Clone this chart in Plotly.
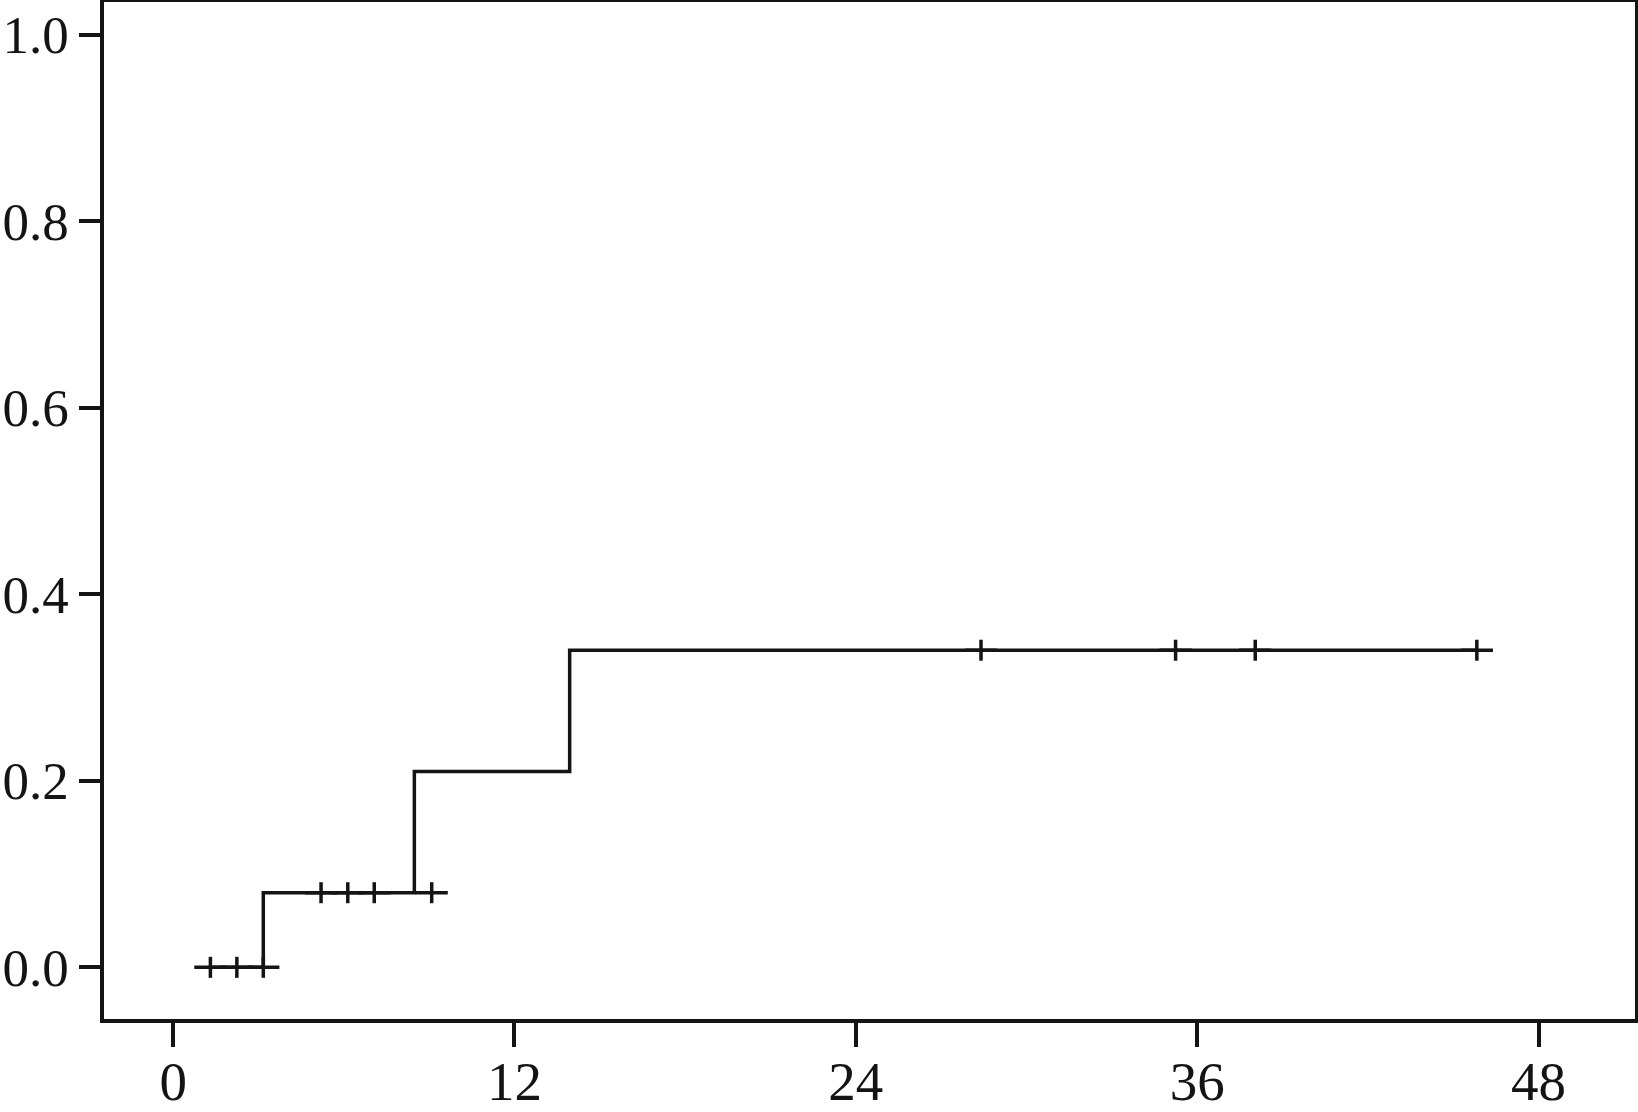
import plotly.graph_objects as go

# cumulative incidence step curve (months)
event_times = [3.17, 8.48, 13.94]
cum_incidence = [0.08, 0.21, 0.34]

# censored observations and the level they are marked at
censor_times = [1.31, 2.24, 3.17, 5.20, 6.14, 7.07, 9.09, 28.40, 35.24, 38.04, 45.83]
censor_levels = [0.0, 0.0, 0.0, 0.08, 0.08, 0.08, 0.08, 0.34, 0.34, 0.34, 0.34]

x_ticks = [0, 12, 24, 36, 48]
y_ticks = [0.0, 0.2, 0.4, 0.6, 0.8, 1.0]

ink = '#141414'

step_x = [censor_times[0]] + event_times + [censor_times[-1]]
step_y = [0.0] + cum_incidence + [cum_incidence[-1]]

fig = go.Figure()

# step curve
fig.add_trace(go.Scatter(
    x=step_x, y=step_y,
    mode='lines',
    line=dict(shape='hv', color=ink, width=3.5),
    hoverinfo='skip',
    showlegend=False
))

# censor marks: vertical bar plus a slightly wider horizontal bar
fig.add_trace(go.Scatter(
    x=censor_times, y=censor_levels,
    mode='markers',
    marker=dict(symbol='line-ns', size=15, line=dict(color=ink, width=3.5)),
    showlegend=False
))
fig.add_trace(go.Scatter(
    x=censor_times, y=censor_levels,
    mode='markers',
    marker=dict(symbol='line-ew', size=23, line=dict(color=ink, width=3.5)),
    showlegend=False
))

font_family = 'Liberation Serif, Times New Roman, serif'

fig.update_xaxes(
    range=[-2.43, 51.39],
    tickvals=x_ticks,
    ticktext=[str(v) for v in x_ticks],
    ticks='outside', ticklen=24, tickwidth=3.5, tickcolor=ink,
    ticklabelstandoff=-13, ticklabeloverflow='allow',
    showline=True, linewidth=3.5, linecolor=ink, mirror=True,
    showgrid=False, zeroline=False, automargin=False,
    tickfont=dict(family=font_family, size=55, color=ink)
)
fig.update_yaxes(
    range=[-0.0554, 1.035],
    tickvals=y_ticks,
    tickformat='.1f',
    ticks='outside', ticklen=21, tickwidth=3.5, tickcolor=ink,
    ticklabelstandoff=0, ticklabeloverflow='allow',
    showline=True, linewidth=3.5, linecolor=ink, mirror=True,
    showgrid=False, zeroline=False, automargin=False,
    tickfont=dict(family=font_family, size=53, color=ink)
)

fig.update_layout(
    width=1638, height=1112,
    margin=dict(l=104, r=3, t=2, b=93),
    paper_bgcolor='white',
    plot_bgcolor='white',
    showlegend=False
)

# drop the browser's default 8px body margin so the figure sits at the window corner
fig.write_html(
    "out.html",
    config={'displayModeBar': False},
    post_script="document.body.style.margin='0';"
)
